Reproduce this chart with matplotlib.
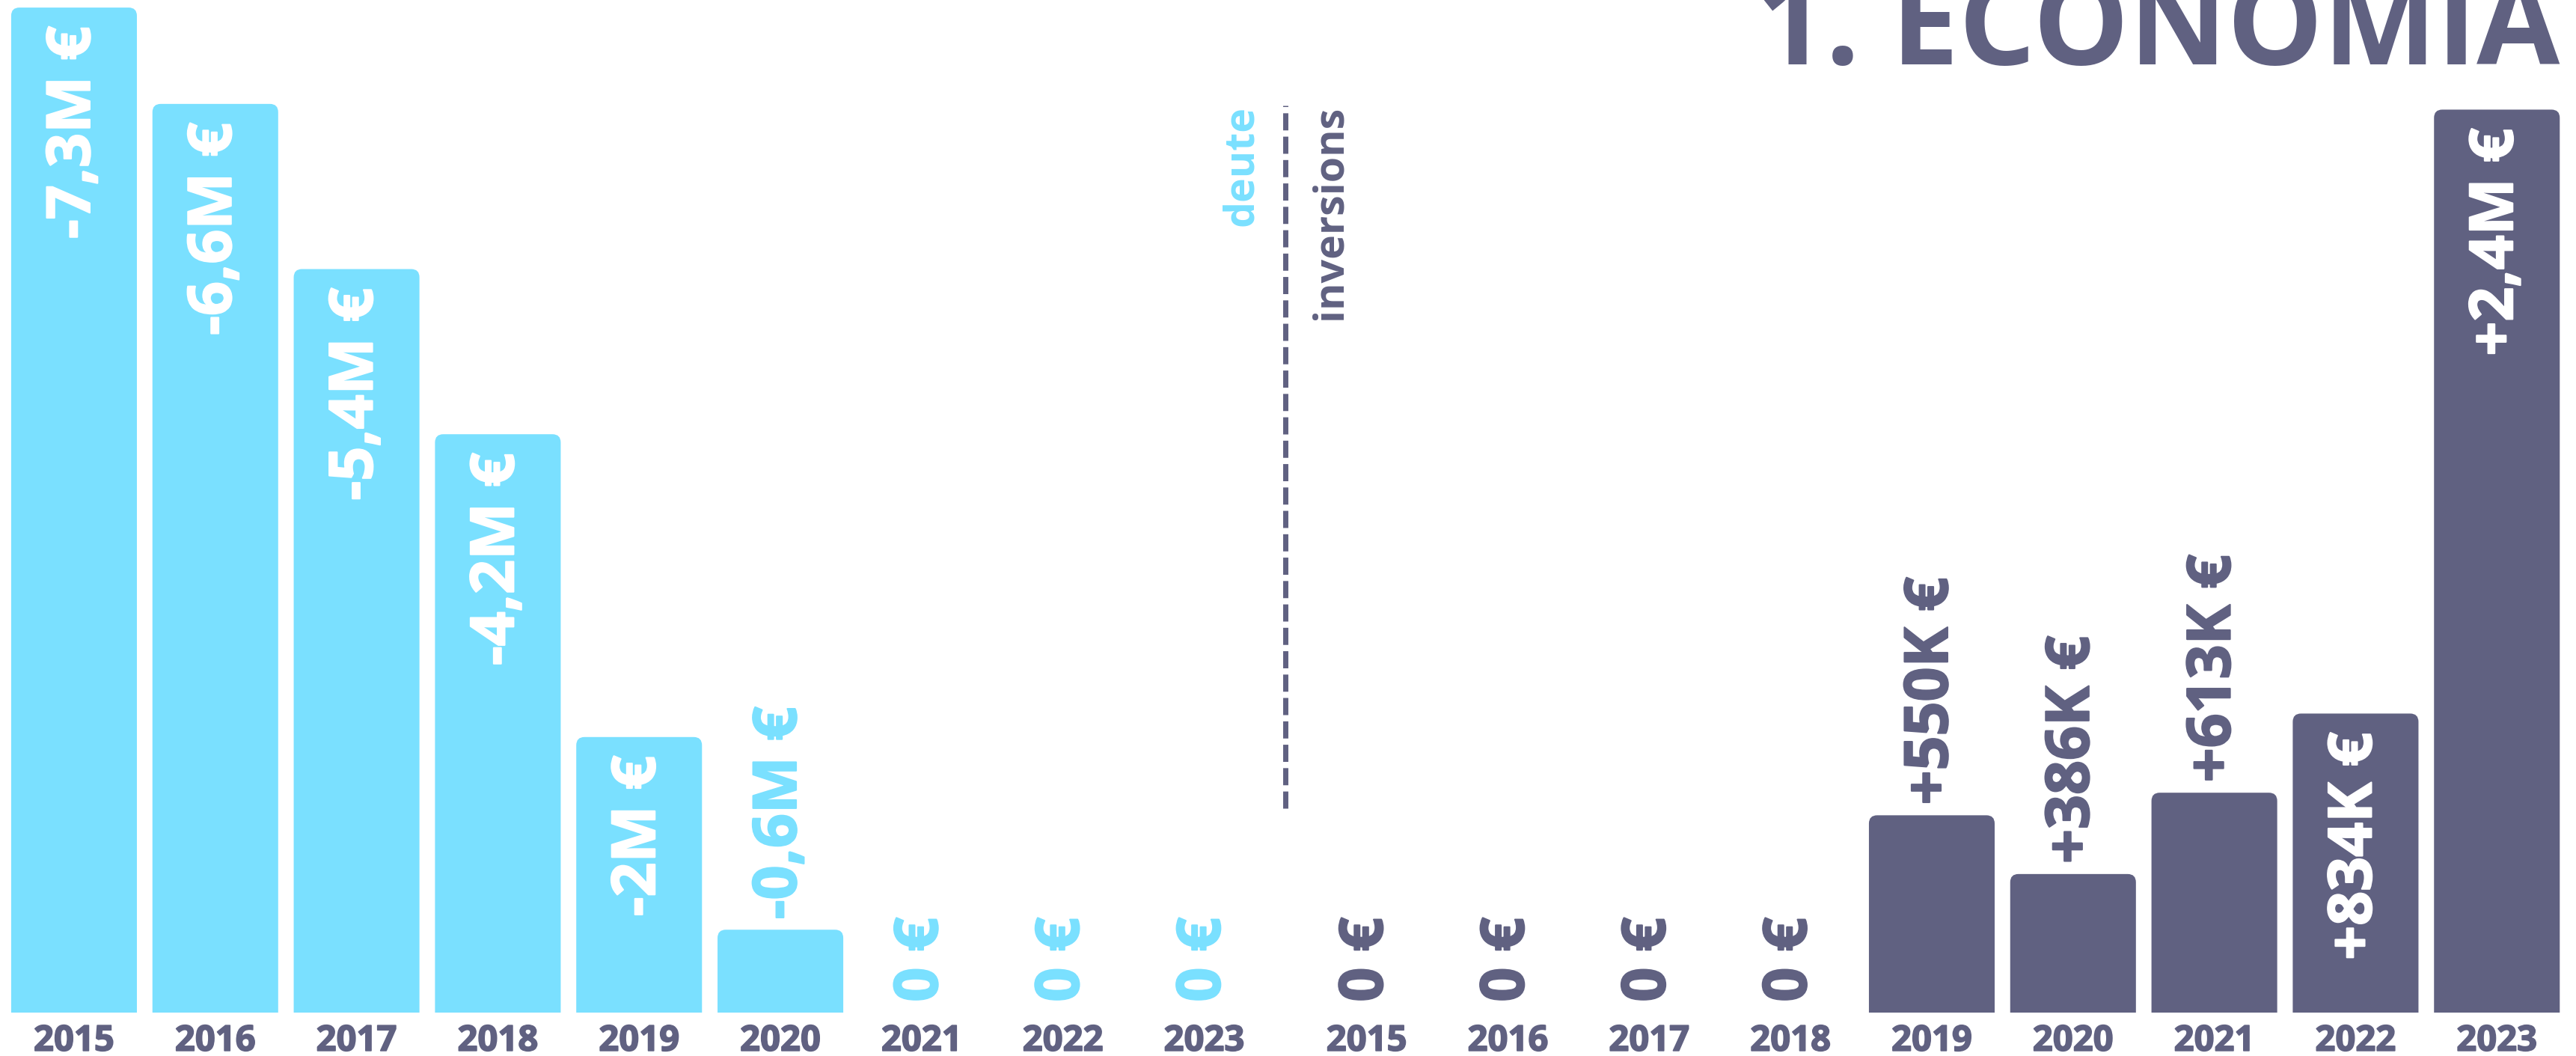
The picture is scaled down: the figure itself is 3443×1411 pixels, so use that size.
import numpy as np
import matplotlib
matplotlib.use("Agg")
from matplotlib import pyplot as plt
from matplotlib.patches import FancyBboxPatch
import matplotlib.patheffects as pe

plt.rcParams['font.family'] = ['Open Sans', 'DejaVu Sans']

# deute (left group) in millions of euros
debt_years = ['2015', '2016', '2017', '2018', '2019', '2020', '2021', '2022', '2023']
debt_vals = [7.3, 6.6, 5.4, 4.2, 2.0, 0.6, 0, 0, 0]
debt_labels = ['-7,3M €', '-6,6M €', '-5,4M €', '-4,2M €', '-2M €', '-0,6M €', '0 €', '0 €', '0 €']

# inversions (right group) in millions of euros
inv_years = ['2015', '2016', '2017', '2018', '2019', '2020', '2021', '2022', '2023']
inv_vals = [0, 0, 0, 0, 0.550, 0.386, 0.613, 0.834, 2.52]
inv_labels = ['0 €', '0 €', '0 €', '0 €', '+550K €', '+386K €', '+613K €', '+834K €', '+2,4M €']

title = '1. ECONOMIA'

CYAN = '#7ae0ff'
DARK = '#606181'
W, H = 3443, 1411
GAP = 0.15
BAR_W = 0.89
LABEL_FS = 58

fig = plt.figure(figsize=(W / 100, H / 100), dpi=100)
bottom = (H - 1352.6) / H
ax = fig.add_axes([0, bottom, 1, 1 - bottom])
ax2 = ax.twinx()

x_debt = np.arange(len(debt_years))
x_inv = np.arange(len(inv_years)) + len(debt_years) + GAP

ax.set_xlim(-0.524, 17.71)
ax.set_ylim(0, 7.355)
ax2.set_ylim(0, 2.826)

for a in (ax, ax2):
    for s in a.spines.values():
        s.set_visible(False)
    a.set_yticks([])
    a.patch.set_visible(False)

ax.set_xticks(list(x_debt) + list(x_inv), debt_years + inv_years)
ax.tick_params(axis='x', length=0, pad=11, labelsize=34, labelcolor=DARK)
for lbl in ax.get_xticklabels():
    lbl.set_fontweight('bold')
    lbl.set_path_effects([pe.withStroke(linewidth=1.2, foreground=DARK)])

fig.canvas.draw()
renderer = fig.canvas.get_renderer()


def rounded_bars(a, xs, vals, color):
    bars = a.bar(xs, vals, width=BAR_W, color=color)
    r_px = 11
    px_x = a.transData.transform((1, 0))[0] - a.transData.transform((0, 0))[0]
    px_y = a.transData.transform((0, 1))[1] - a.transData.transform((0, 0))[1]
    rx = r_px / px_x
    ry = r_px / px_y
    for p in bars:
        if p.get_height() <= 0:
            p.remove()
            continue
        fb = FancyBboxPatch((p.get_x(), -ry * 2), p.get_width(), p.get_height() + ry * 2,
                            boxstyle='round,pad=0,rounding_size=%f' % rx,
                            mutation_aspect=ry / rx, facecolor=color, edgecolor='none')
        a.add_patch(fb)
        p.remove()


def value_labels(a, xs, vals, labels, color):
    for x, v, lab in zip(xs, vals, labels):
        bar_px = a.transData.transform((0, v))[1] - a.transData.transform((0, 0))[1]
        t = a.annotate(lab, (x, v), xytext=(0, 10), textcoords='offset points',
                       rotation=90, ha='center', va='bottom', color=color,
                       fontsize=LABEL_FS, fontweight='bold')
        length = t.get_window_extent(renderer).height
        fg = color
        if bar_px > length + 50:
            t.xyann = (0, -18)
            t.set_va('top')
            t.set_color('white')
            fg = 'white'
        t.set_path_effects([pe.withStroke(linewidth=1.5, foreground=fg)])


rounded_bars(ax, x_debt, debt_vals, CYAN)
rounded_bars(ax2, x_inv, inv_vals, DARK)
value_labels(ax, x_debt, debt_vals, debt_labels, CYAN)
value_labels(ax2, x_inv, inv_vals, inv_labels, DARK)

# separator between the two groups
x_mid = (x_debt[-1] + x_inv[0]) / 2
ax.axvline(x_mid, ymin=0.2015, ymax=0.896, color=DARK, lw=5, dashes=(3.3, 1.2))
ax.annotate('deute', (x_mid, 0.896), xycoords=('data', 'axes fraction'),
            xytext=(-42, 0), textcoords='offset points', rotation=90,
            ha='center', va='top', color=CYAN, fontsize=40, fontweight='bold')
ax.annotate('inversions', (x_mid, 0.896), xycoords=('data', 'axes fraction'),
            xytext=(43, 0), textcoords='offset points', rotation=90,
            ha='center', va='top', color=DARK, fontsize=40, fontweight='bold')

# title sits partly above the top edge, as in the original
fig.text(3421 / W, 1 - 86 / H, title, ha='right', va='baseline',
         fontsize=116, fontweight='bold', color=DARK,
         family=['Liberation Sans Narrow', 'Open Sans', 'DejaVu Sans'])

fig.savefig('out.png', dpi=100, facecolor='white')
